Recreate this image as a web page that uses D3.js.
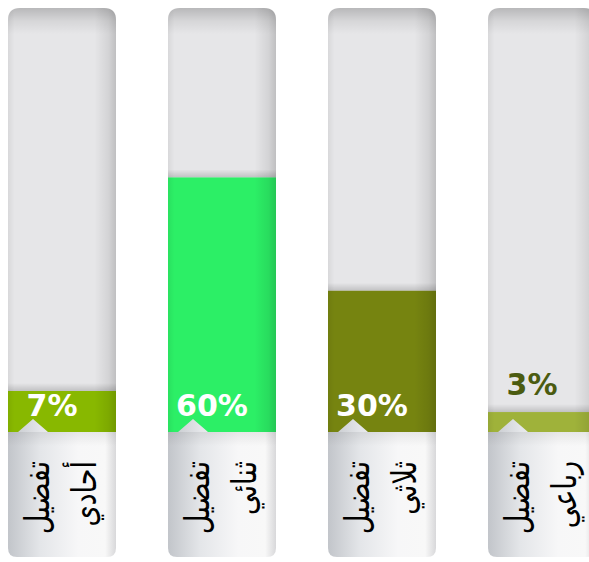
<!DOCTYPE html>
<html><head><meta charset="utf-8">
<script src="https://cdn.jsdelivr.net/npm/d3@7"></script>
<style>body{margin:0;background:#fff}svg{display:block}</style></head>
<body><svg id="c" width="589" height="562"></svg>
<script>
const categories = ["تفضيل أحادي","تفضيل ثنائي","تفضيل ثلاثي","تفضيل رباعي"];
const line1 = ["تفضيل","تفضيل","تفضيل","تفضيل"];
const line2 = ["أحادي","ثنائي","ثلاثي","رباعي"];
const values = [7, 60, 30, 3];
const colors = ["#88b800", "#2cef66", "#768410", "#9fb23a"];
const outsideLabelColors = ["#5a6e00", "#1a9a40", "#4b5a08", "#4b5b10"];

const svg = d3.select("#c");
const TOP = 8, BASE = 432, BOTTOM = 557;

const x = d3.scaleBand().domain(categories).range([8, 596]).paddingInner(0.325).paddingOuter(0);
const y = d3.scalePow().exponent(0.85).domain([0, 100]).range([BASE, BASE - 393]);
const bw = x.bandwidth();

const defs = svg.append("defs");
function lin(id, x1, y1, x2, y2, stops) {
  const g = defs.append("linearGradient").attr("id", id)
    .attr("x1", x1).attr("y1", y1).attr("x2", x2).attr("y2", y2);
  stops.forEach(s => g.append("stop").attr("offset", s[0]).attr("stop-color", s[1]).attr("stop-opacity", s[2] == null ? 1 : s[2]));
}
lin("topShade", 0, 0, 0, 1, [[0, "#000", 0.2], [0.5, "#000", 0.07], [1, "#000", 0]]);
lin("sideShade", 0, 0, 1, 0, [[0, "#000", 0.06], [0.06, "#000", 0], [0.8, "#000", 0], [0.93, "#000", 0.08], [1, "#000", 0.17]]);
lin("fillShadow", 0, 0, 0, 1, [[0, "#000", 0], [1, "#000", 0.16]]);
lin("labelGrad", 0, 0, 1, 0, [[0, "#c2c5ca"], [0.3, "#e4e6e9"], [0.65, "#f7f7f8"], [0.9, "#f8f8f8"], [1, "#d8d8da"]]);
lin("labelTop", 0, 0, 0, 1, [[0, "#000", 0.07], [1, "#000", 0]]);

function colPath(x0, w) {
  const rt = 12, rb = 9;
  return `M${x0},${TOP + rt} Q${x0},${TOP} ${x0 + rt},${TOP} L${x0 + w - rt},${TOP} Q${x0 + w},${TOP} ${x0 + w},${TOP + rt}
    L${x0 + w},${BOTTOM - rb} Q${x0 + w},${BOTTOM} ${x0 + w - rb},${BOTTOM} L${x0 + rb},${BOTTOM} Q${x0},${BOTTOM} ${x0},${BOTTOM - rb} Z`;
}

categories.forEach((c, i) => {
  const x0 = x(c);
  defs.append("clipPath").attr("id", "clip" + i).append("path").attr("d", colPath(x0, bw));
  const g = svg.append("g").attr("clip-path", `url(#clip${i})`);
  g.append("rect").attr("x", x0).attr("y", TOP).attr("width", bw).attr("height", BASE - TOP).attr("fill", "#e6e6e8");
  const fy = y(values[i]);
  g.append("rect").attr("x", x0).attr("y", fy - 8).attr("width", bw).attr("height", 8).attr("fill", "url(#fillShadow)");
  g.append("rect").attr("x", x0).attr("y", fy).attr("width", bw).attr("height", BASE - fy).attr("fill", colors[i]);
  g.append("rect").attr("x", x0).attr("y", TOP).attr("width", bw).attr("height", 26).attr("fill", "url(#topShade)");
  g.append("rect").attr("x", x0).attr("y", TOP).attr("width", bw).attr("height", BASE - TOP).attr("fill", "url(#sideShade)");
  const tip = x0 + 25, hw = 15, th = 13;
  g.append("path")
    .attr("d", `M${x0},${BASE} L${tip - hw},${BASE} L${tip},${BASE - th} L${tip + hw},${BASE} L${x0 + bw},${BASE} L${x0 + bw},${BOTTOM} L${x0},${BOTTOM} Z`)
    .attr("fill", "url(#labelGrad)");
  g.append("rect").attr("x", x0).attr("y", BASE).attr("width", bw).attr("height", 14).attr("fill", "url(#labelTop)");
  const inside = (BASE - fy) > 30;
  svg.append("text")
    .attr("x", x0 + 44)
    .attr("y", inside ? BASE - 16 : fy - 17)
    .attr("text-anchor", "middle")
    .attr("font-family", "DejaVu Sans, sans-serif")
    .attr("font-weight", "bold")
    .attr("font-size", 30)
    .attr("fill", inside ? "#ffffff" : outsideLabelColors[i])
    .text(values[i] + "%");
  [[line1[i], 41], [line2[i], 88]].forEach(([t, dx]) => {
    g.append("text")
      .attr("transform", `translate(${x0 + dx},${BASE + 29}) rotate(-90) scale(1,1.25)`)
      .attr("text-anchor", "end")
      .attr("font-family", "DejaVu Sans, sans-serif")
      .attr("font-size", 27)
      .attr("fill", "#000")
      .text(t);
  });
});
</script></body></html>
